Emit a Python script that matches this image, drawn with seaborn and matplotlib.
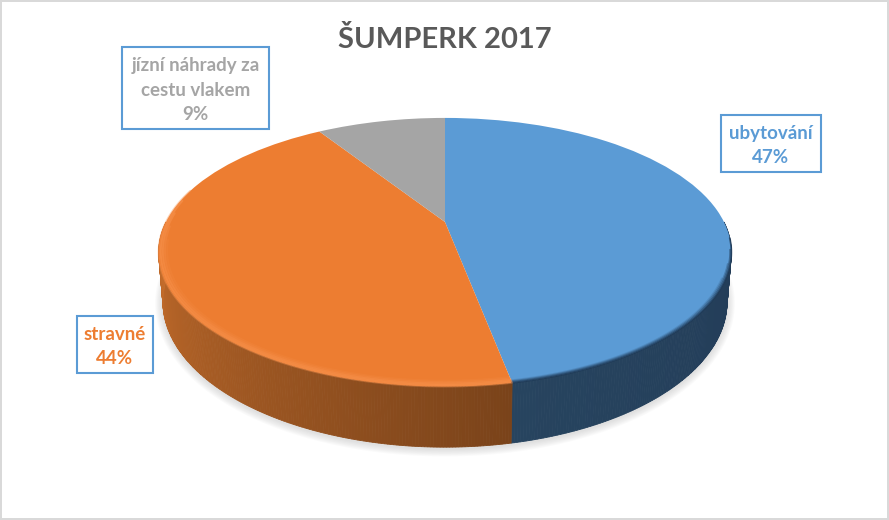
import numpy as np
import matplotlib
matplotlib.use("Agg")
import matplotlib.pyplot as plt
import seaborn as sns
from matplotlib.colors import to_rgb
from matplotlib.patches import Rectangle
from matplotlib.transforms import Transform

# data
categories = ["ubytování", "stravné", "jízní náhrady za\ncestu vlakem"]
values = [47, 44, 9]
title = "ŠUMPERK 2017"
colors = ["#5B9BD5", "#ED7D31", "#A5A5A5"]

# side shading of the visible slices, (right end, left end)
side_colors = {0: ("#223B57", "#27445F"), 1: ("#7A431A", "#C96F2C")}

sns.set_theme(style="white")
plt.rcParams["font.family"] = ["Lato", "DejaVu Sans"]

W, H = 889, 520
CX, CY = 445, 222
A, B, K = 279, 127.5, 0.225
DEPTH = 47


def project(x, y, drop=0.0):
    # unit circle -> pixel position, with perspective towards the back
    w = 1 + K * y
    shrink = 1 - 0.015 * (drop > 0)
    return CX + shrink * A * x / w, CY - B * y / w + drop / w


class Persp(Transform):
    input_dims = output_dims = 2

    def transform_non_affine(self, values):
        values = np.asarray(values, dtype=float)
        px, py = project(values[:, 0], values[:, 1])
        return np.column_stack([px, py])


def arc(phi1, phi2, r=1.0, drop=0.0, n=120):
    phi = np.radians(np.linspace(phi1, phi2, n))
    return project(r * np.sin(phi), r * np.cos(phi), drop)


fig = plt.figure(figsize=(W / 100, H / 100), dpi=100)
ax = fig.add_axes([0, 0, 1, 1])

wedges, _ = ax.pie(values, colors=colors, startangle=90, counterclock=False,
                   wedgeprops={"linewidth": 0})
ax.set_aspect("auto")
ax.set_xlim(0, W)
ax.set_ylim(H, 0)
ax.axis("off")

for w in wedges:
    w.set_transform(Persp() + ax.transData)
    w.set_zorder(5)

# soft shadow under the disc
sx, sy = arc(95, 265, drop=DEPTH)
for i in range(1, 8):
    ax.plot(sx, sy + 1.5, color="#808080", lw=i * 1.6, alpha=0.035, zorder=1,
            solid_capstyle="round")

# side wall, cut into thin strips
ends = np.cumsum(values) / np.sum(values) * 360
starts = np.r_[0, ends[:-1]]
vis1, vis2 = 90, 270
for i, (c1, c2) in side_colors.items():
    a = max(starts[i], vis1)
    b = min(ends[i], vis2)
    edges = np.linspace(a, b, int(b - a) * 2 + 1)
    for j in range(len(edges) - 1):
        t = (edges[j] - a) / (b - a)
        col = (1 - t) * np.array(to_rgb(c1)) + t * np.array(to_rgb(c2))
        tx, ty = arc(edges[j], edges[j + 1], n=3)
        bx, by = arc(edges[j], edges[j + 1], drop=DEPTH, n=3)
        ax.fill(np.r_[tx, bx[::-1]], np.r_[ty, by[::-1]], color=col, lw=0.6, zorder=3)

# bevel along the front rim, inner passes start later so it tapers in
for r, al, st in zip([1.0, 0.996, 0.992, 0.988], [0.75, 0.5, 0.3, 0.15], [97, 102, 108, 114]):
    px, py = arc(st, ends[0], r=r)
    ax.plot(px, py, color="#1F3A57", lw=1.3, alpha=al, zorder=6)
for r, al, en in zip([1.0, 0.993, 0.986, 0.979, 0.972], [0.4, 0.6, 0.5, 0.3, 0.15],
                     [285, 280, 274, 268, 262]):
    px, py = arc(ends[0], en, r=r)
    ax.plot(px, py, color="#F8934F", lw=1.4, alpha=al, zorder=6)

# labels
boxes = [(720.5, 115, 100.5, 57), (77, 316, 76, 57), (122, 47, 147, 82)]
for name, v, col, (bx, by, bw, bh) in zip(categories, values, colors, boxes):
    ax.add_patch(Rectangle((bx, by), bw, bh, fill=False, ec="#5B9BD5", lw=1.5, zorder=7))
    ax.text(bx + bw / 2, by + bh / 2 + 2, f"{name}\n{v}%", color=col, ha="center", va="center",
            fontsize=13.5, fontweight="bold", linespacing=1.55, zorder=8)

ax.text(444.5, 39, title, color="#595959", ha="center", va="center",
        fontsize=21, fontweight="bold")

# chart frame
ax.add_patch(Rectangle((1, 1), W - 2, H - 2, fill=False, ec="#D9D9D9", lw=1.44, zorder=9))

fig.savefig("out.png", dpi=100)
